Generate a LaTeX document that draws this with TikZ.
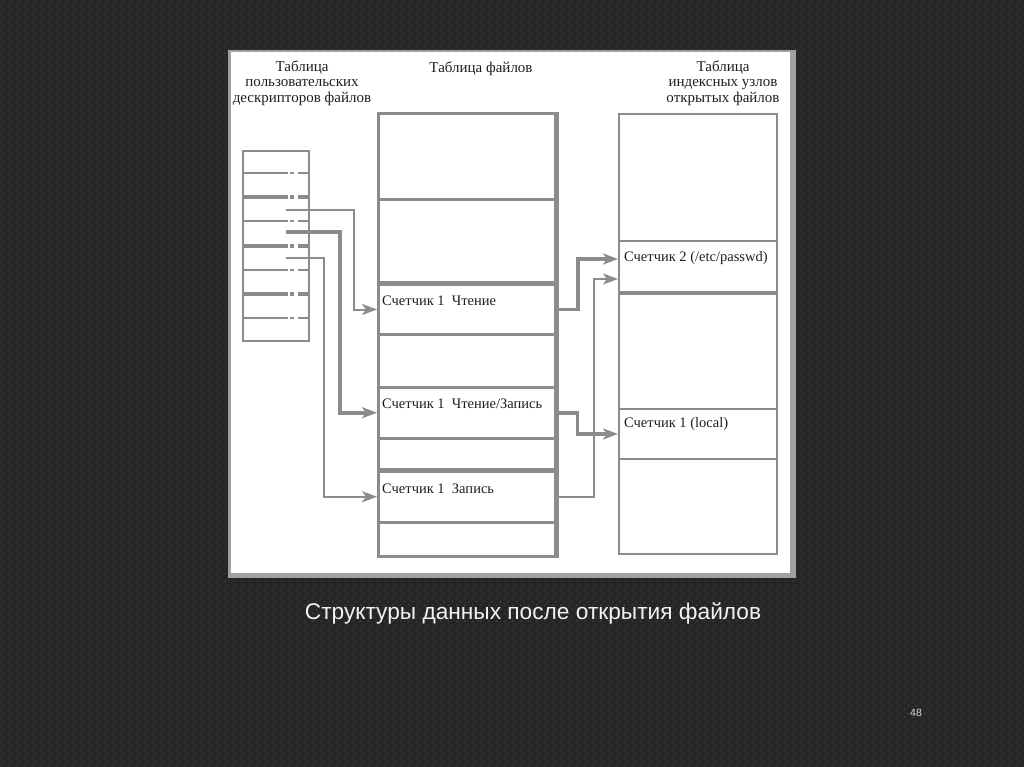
\documentclass[tikz,border=0pt]{standalone}
\usepackage{fontspec}
\setmainfont{Liberation Serif}
\newfontfamily\capfont{Liberation Sans}
\usetikzlibrary{arrows.meta,patterns.meta}
\definecolor{bgdark}{HTML}{262626}
\definecolor{bgdot}{HTML}{383838}
\definecolor{linegray}{HTML}{8C8C8C}
\definecolor{edgegray}{HTML}{A0A0A0}
\definecolor{txt}{HTML}{1E1E1E}
\tikzdeclarepattern{
  name=bgdots, type=uncolored,
  bottom left={(0pt,0pt)}, top right={(8pt,8pt)}, tile size={(8pt,8pt)},
  code={\fill (2pt,2pt) circle (1.4pt); \fill (6pt,6pt) circle (1.4pt);}
}
\tikzset{
  row/.style={draw=linegray, line width=2pt, rectangle, inner sep=0pt, anchor=north west},
  lbl/.style={font=\fontsize{14.5}{15}\selectfont, text=txt, anchor=west, inner sep=0pt},
  hdr/.style={font=\fontsize{15}{15.5}\selectfont, text=txt, align=center, inner sep=0pt},
  conn/.style={draw=linegray, line width=2pt, -{Stealth[length=15pt,width=11pt,inset=4pt]}},
  thickconn/.style={conn, line width=3.5pt},
  sep/.style={draw=linegray, line width=1.6pt},
  thicksep/.style={draw=linegray, line width=3.5pt},
}
\begin{document}
\begin{tikzpicture}[x=1pt,y=-1pt]
\useasboundingbox (0,0) rectangle (1024,767);
\fill[bgdark] (0,0) rectangle (1024,767);
\fill[pattern={bgdots}, pattern color=bgdot] (0,0) rectangle (1024,767);
% panel
\fill[edgegray] (228,50) rectangle (796,578);
\fill[white] (231,52) rectangle (790,573);
% headers
\node[hdr] (h1) at (302,83) {Таблица\\пользовательских\\дескрипторов файлов};
\node[hdr] (h2) at (481,69) {Таблица файлов};
\node[hdr] (h3) at (723,83) {Таблица\\индексных узлов\\открытых файлов};
% left table: user descriptor table
\node[row, minimum width=66pt, minimum height=190pt] (u) at (242,150) {};
\foreach \yy/\st in {173/sep,197/thicksep,221/sep,246/thicksep,270/sep,294/thicksep,318/sep}{
  \draw[\st] (242,\yy) -- (288,\yy) (290,\yy) -- (294,\yy) (298,\yy) -- (308,\yy);
}
\coordinate (s1) at (286,210);
\coordinate (s2) at (286,232);
\coordinate (s3) at (286,258);
% middle table: file table
\node[row, line width=3pt, minimum width=179pt, minimum height=86pt] (m1) at (377,112) {};
\node[row, line width=3pt, minimum width=179pt, minimum height=85pt] (m2) at (377,198) {};
\node[row, line width=3pt, minimum width=179pt, minimum height=50pt] (m3) at (377,283) {};
\node[row, line width=2.5pt, minimum width=179pt, minimum height=53pt] (m4) at (377,333) {};
\node[row, line width=2.5pt, minimum width=179pt, minimum height=51pt] (m5) at (377,386) {};
\node[row, line width=2.5pt, minimum width=179pt, minimum height=33pt] (m6) at (377,437) {};
\node[row, line width=2.5pt, minimum width=179pt, minimum height=51pt] (m7) at (377,470) {};
\node[row, line width=2.5pt, minimum width=179pt, minimum height=34pt] (m8) at (377,521) {};
\draw[thicksep] (377,283) -- (556,283) (377,470) -- (556,470);
\draw[draw=linegray, line width=4pt] (556,112) -- (556,555);
\node[lbl] (t3) at (382,301) {Счетчик 1\ \ Чтение};
\node[lbl] (t5) at (382,404) {Счетчик 1\ \ Чтение/Запись};
\node[lbl] (t7) at (382,489) {Счетчик 1\ \ Запись};
% right table: inode table
\node[row, minimum width=158pt, minimum height=127pt] (r1) at (618,113) {};
\node[row, minimum width=158pt, minimum height=53pt] (r2) at (618,240) {};
\node[row, minimum width=158pt, minimum height=115pt] (r3) at (618,293) {};
\node[row, minimum width=158pt, minimum height=50pt] (r4) at (618,408) {};
\node[row, minimum width=158pt, minimum height=95pt] (r5) at (618,458) {};
\draw[thicksep] (618,293) -- (776,293);
\node[lbl] (q2) at (624,258) {Счетчик 2 (/etc/passwd)};
\node[lbl] (q4) at (624,424) {Счетчик 1 (local)};
% connectors left -> middle
\draw[conn] (s1) -- ++(68,0) |- (m3.west);
\draw[thickconn] (s2) -- ++(54,0) |- (m5.west);
\draw[conn] (s3) -- ++(38,0) |- (m7.west);
% connectors middle -> right
\draw[thickconn] (m3.east) -- ++(19,0) |- ([yshift=8.5pt]r2.west);
\draw[thickconn] (m5.east) -- ++(19,0) |- (r4.west);
\draw[conn] (m7.east) -- ++(35,0) |- ([yshift=-11.5pt]r2.west);
% caption
\node[font=\capfont\fontsize{22.7}{24}\selectfont, text=white!95!black, inner sep=0pt] (cap) at (533,613) {Структуры данных после открытия файлов};
\node[font=\capfont\fontsize{10.5}{12}\selectfont, text=white!85!black, inner sep=0pt] (num) at (916,713) {48};
\end{tikzpicture}
\end{document}
